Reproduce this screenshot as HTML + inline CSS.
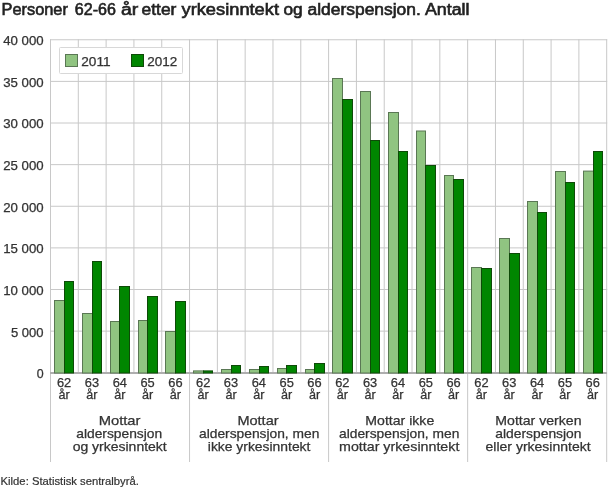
<!DOCTYPE html>
<html lang="no"><head><meta charset="utf-8"><title>Personer 62-66 år etter yrkesinntekt og alderspensjon</title>
<style>html,body{margin:0;padding:0;background:#fff}svg{display:block}</style></head>
<body>
<svg width="610" height="488" viewBox="0 0 610 488" font-family='"Liberation Sans", Arial, sans-serif'>
<rect width="610" height="488" fill="#fff"/>
<g stroke="#c8c8c8" stroke-width="1">
<line x1="50.50" y1="39.25" x2="50.50" y2="462"/>
<line x1="78.31" y1="39.25" x2="78.31" y2="373"/>
<line x1="106.12" y1="39.25" x2="106.12" y2="373"/>
<line x1="133.93" y1="39.25" x2="133.93" y2="373"/>
<line x1="161.74" y1="39.25" x2="161.74" y2="373"/>
<line x1="189.55" y1="39.25" x2="189.55" y2="462"/>
<line x1="217.36" y1="39.25" x2="217.36" y2="373"/>
<line x1="245.17" y1="39.25" x2="245.17" y2="373"/>
<line x1="272.98" y1="39.25" x2="272.98" y2="373"/>
<line x1="300.79" y1="39.25" x2="300.79" y2="373"/>
<line x1="328.60" y1="39.25" x2="328.60" y2="462"/>
<line x1="356.41" y1="39.25" x2="356.41" y2="373"/>
<line x1="384.22" y1="39.25" x2="384.22" y2="373"/>
<line x1="412.03" y1="39.25" x2="412.03" y2="373"/>
<line x1="439.84" y1="39.25" x2="439.84" y2="373"/>
<line x1="467.65" y1="39.25" x2="467.65" y2="462"/>
<line x1="495.46" y1="39.25" x2="495.46" y2="373"/>
<line x1="523.27" y1="39.25" x2="523.27" y2="373"/>
<line x1="551.08" y1="39.25" x2="551.08" y2="373"/>
<line x1="578.89" y1="39.25" x2="578.89" y2="373"/>
<line x1="606.70" y1="39.25" x2="606.70" y2="462"/>
<line x1="50" y1="39.750" x2="607.2" y2="39.750"/>
<line x1="50" y1="81.375" x2="607.2" y2="81.375"/>
<line x1="50" y1="123.000" x2="607.2" y2="123.000"/>
<line x1="50" y1="164.625" x2="607.2" y2="164.625"/>
<line x1="50" y1="206.250" x2="607.2" y2="206.250"/>
<line x1="50" y1="247.875" x2="607.2" y2="247.875"/>
<line x1="50" y1="289.500" x2="607.2" y2="289.500"/>
<line x1="50" y1="331.125" x2="607.2" y2="331.125"/>
</g>
<rect x="50" y="372" width="557" height="2" fill="#aeaeae" shape-rendering="crispEdges"/>
<g stroke-width="1">
<rect x="54.5" y="300.5" width="10" height="72.5" fill="#90c481" stroke="#5a7754"/>
<rect x="64.5" y="281.5" width="9" height="91.5" fill="#008600" stroke="#0e4a08"/>
<rect x="82.5" y="313.5" width="10" height="59.5" fill="#90c481" stroke="#5a7754"/>
<rect x="92.5" y="261.5" width="9" height="111.5" fill="#008600" stroke="#0e4a08"/>
<rect x="110.5" y="321.5" width="9" height="51.5" fill="#90c481" stroke="#5a7754"/>
<rect x="119.5" y="286.5" width="10" height="86.5" fill="#008600" stroke="#0e4a08"/>
<rect x="138.5" y="320.5" width="9" height="52.5" fill="#90c481" stroke="#5a7754"/>
<rect x="147.5" y="296.5" width="10" height="76.5" fill="#008600" stroke="#0e4a08"/>
<rect x="165.5" y="331.5" width="10" height="41.5" fill="#90c481" stroke="#5a7754"/>
<rect x="175.5" y="301.5" width="10" height="71.5" fill="#008600" stroke="#0e4a08"/>
<rect x="193.5" y="370.9" width="10" height="2.1000000000000227" fill="#90c481" stroke="#5a7754"/>
<rect x="203.5" y="370.9" width="9" height="2.1000000000000227" fill="#008600" stroke="#0e4a08"/>
<rect x="221.5" y="369.5" width="10" height="3.5" fill="#90c481" stroke="#5a7754"/>
<rect x="231.5" y="365.5" width="9" height="7.5" fill="#008600" stroke="#0e4a08"/>
<rect x="249.5" y="369.5" width="10" height="3.5" fill="#90c481" stroke="#5a7754"/>
<rect x="259.5" y="366.5" width="9" height="6.5" fill="#008600" stroke="#0e4a08"/>
<rect x="277.5" y="368.5" width="9" height="4.5" fill="#90c481" stroke="#5a7754"/>
<rect x="286.5" y="365.5" width="10" height="7.5" fill="#008600" stroke="#0e4a08"/>
<rect x="305.5" y="369.5" width="9" height="3.5" fill="#90c481" stroke="#5a7754"/>
<rect x="314.5" y="363.5" width="10" height="9.5" fill="#008600" stroke="#0e4a08"/>
<rect x="332.5" y="78.5" width="10" height="294.5" fill="#90c481" stroke="#5a7754"/>
<rect x="342.5" y="99.5" width="10" height="273.5" fill="#008600" stroke="#0e4a08"/>
<rect x="360.5" y="91.5" width="10" height="281.5" fill="#90c481" stroke="#5a7754"/>
<rect x="370.5" y="140.5" width="9" height="232.5" fill="#008600" stroke="#0e4a08"/>
<rect x="388.5" y="112.5" width="10" height="260.5" fill="#90c481" stroke="#5a7754"/>
<rect x="398.5" y="151.5" width="9" height="221.5" fill="#008600" stroke="#0e4a08"/>
<rect x="416.5" y="131.0" width="9" height="242.0" fill="#90c481" stroke="#5a7754"/>
<rect x="425.5" y="165.5" width="10" height="207.5" fill="#008600" stroke="#0e4a08"/>
<rect x="444.5" y="175.5" width="9" height="197.5" fill="#90c481" stroke="#5a7754"/>
<rect x="453.5" y="179.5" width="10" height="193.5" fill="#008600" stroke="#0e4a08"/>
<rect x="471.5" y="267.5" width="10" height="105.5" fill="#90c481" stroke="#5a7754"/>
<rect x="481.5" y="268.5" width="10" height="104.5" fill="#008600" stroke="#0e4a08"/>
<rect x="499.5" y="238.5" width="10" height="134.5" fill="#90c481" stroke="#5a7754"/>
<rect x="509.5" y="253.5" width="10" height="119.5" fill="#008600" stroke="#0e4a08"/>
<rect x="527.5" y="201.5" width="10" height="171.5" fill="#90c481" stroke="#5a7754"/>
<rect x="537.5" y="212.5" width="9" height="160.5" fill="#008600" stroke="#0e4a08"/>
<rect x="555.5" y="171.5" width="10" height="201.5" fill="#90c481" stroke="#5a7754"/>
<rect x="565.5" y="182.5" width="9" height="190.5" fill="#008600" stroke="#0e4a08"/>
<rect x="583.5" y="171.1" width="10" height="201.9" fill="#90c481" stroke="#5a7754"/>
<rect x="593.5" y="151.5" width="9" height="221.5" fill="#008600" stroke="#0e4a08"/>
</g>
<rect x="59.5" y="47.5" width="123" height="26" rx="1" fill="#fff" stroke="#d8d8d8"/>
<rect x="65.5" y="54.5" width="12" height="12" fill="#90c481" stroke="#5a7754" shape-rendering="crispEdges"/>
<rect x="131.5" y="54.5" width="12" height="12" fill="#008600" stroke="#0e4a08" shape-rendering="crispEdges"/>
<g font-size="12" fill="#333" stroke="#333" stroke-width="0.25">
<text x="81.3" y="66" textLength="29.3" lengthAdjust="spacingAndGlyphs">2011</text>
<text x="147.3" y="66" textLength="30" lengthAdjust="spacingAndGlyphs">2012</text>
<text x="3.2" y="44.5" textLength="40.4" lengthAdjust="spacingAndGlyphs">40 000</text>
<text x="3.2" y="86.5" textLength="40.4" lengthAdjust="spacingAndGlyphs">35 000</text>
<text x="3.2" y="127.5" textLength="40.4" lengthAdjust="spacingAndGlyphs">30 000</text>
<text x="3.2" y="169.5" textLength="40.4" lengthAdjust="spacingAndGlyphs">25 000</text>
<text x="3.2" y="211.5" textLength="40.4" lengthAdjust="spacingAndGlyphs">20 000</text>
<text x="3.2" y="252.5" textLength="40.4" lengthAdjust="spacingAndGlyphs">15 000</text>
<text x="3.2" y="294.5" textLength="40.4" lengthAdjust="spacingAndGlyphs">10 000</text>
<text x="11.0" y="336.5" textLength="32.6" lengthAdjust="spacingAndGlyphs">5 000</text>
<text x="36.7" y="377.5" textLength="6.9" lengthAdjust="spacingAndGlyphs">0</text>
<text x="64.1" y="386.7" text-anchor="middle" textLength="14.3" lengthAdjust="spacingAndGlyphs">62</text>
<text x="64.1" y="399.4" text-anchor="middle" textLength="11.2" lengthAdjust="spacingAndGlyphs">år</text>
<text x="91.9" y="386.7" text-anchor="middle" textLength="14.3" lengthAdjust="spacingAndGlyphs">63</text>
<text x="91.9" y="399.4" text-anchor="middle" textLength="11.2" lengthAdjust="spacingAndGlyphs">år</text>
<text x="119.8" y="386.7" text-anchor="middle" textLength="14.3" lengthAdjust="spacingAndGlyphs">64</text>
<text x="119.8" y="399.4" text-anchor="middle" textLength="11.2" lengthAdjust="spacingAndGlyphs">år</text>
<text x="147.6" y="386.7" text-anchor="middle" textLength="14.3" lengthAdjust="spacingAndGlyphs">65</text>
<text x="147.6" y="399.4" text-anchor="middle" textLength="11.2" lengthAdjust="spacingAndGlyphs">år</text>
<text x="175.4" y="386.7" text-anchor="middle" textLength="14.3" lengthAdjust="spacingAndGlyphs">66</text>
<text x="175.4" y="399.4" text-anchor="middle" textLength="11.2" lengthAdjust="spacingAndGlyphs">år</text>
<text x="203.2" y="386.7" text-anchor="middle" textLength="14.3" lengthAdjust="spacingAndGlyphs">62</text>
<text x="203.2" y="399.4" text-anchor="middle" textLength="11.2" lengthAdjust="spacingAndGlyphs">år</text>
<text x="231.0" y="386.7" text-anchor="middle" textLength="14.3" lengthAdjust="spacingAndGlyphs">63</text>
<text x="231.0" y="399.4" text-anchor="middle" textLength="11.2" lengthAdjust="spacingAndGlyphs">år</text>
<text x="258.8" y="386.7" text-anchor="middle" textLength="14.3" lengthAdjust="spacingAndGlyphs">64</text>
<text x="258.8" y="399.4" text-anchor="middle" textLength="11.2" lengthAdjust="spacingAndGlyphs">år</text>
<text x="286.7" y="386.7" text-anchor="middle" textLength="14.3" lengthAdjust="spacingAndGlyphs">65</text>
<text x="286.7" y="399.4" text-anchor="middle" textLength="11.2" lengthAdjust="spacingAndGlyphs">år</text>
<text x="314.5" y="386.7" text-anchor="middle" textLength="14.3" lengthAdjust="spacingAndGlyphs">66</text>
<text x="314.5" y="399.4" text-anchor="middle" textLength="11.2" lengthAdjust="spacingAndGlyphs">år</text>
<text x="342.3" y="386.7" text-anchor="middle" textLength="14.3" lengthAdjust="spacingAndGlyphs">62</text>
<text x="342.3" y="399.4" text-anchor="middle" textLength="11.2" lengthAdjust="spacingAndGlyphs">år</text>
<text x="370.1" y="386.7" text-anchor="middle" textLength="14.3" lengthAdjust="spacingAndGlyphs">63</text>
<text x="370.1" y="399.4" text-anchor="middle" textLength="11.2" lengthAdjust="spacingAndGlyphs">år</text>
<text x="397.9" y="386.7" text-anchor="middle" textLength="14.3" lengthAdjust="spacingAndGlyphs">64</text>
<text x="397.9" y="399.4" text-anchor="middle" textLength="11.2" lengthAdjust="spacingAndGlyphs">år</text>
<text x="425.8" y="386.7" text-anchor="middle" textLength="14.3" lengthAdjust="spacingAndGlyphs">65</text>
<text x="425.8" y="399.4" text-anchor="middle" textLength="11.2" lengthAdjust="spacingAndGlyphs">år</text>
<text x="453.6" y="386.7" text-anchor="middle" textLength="14.3" lengthAdjust="spacingAndGlyphs">66</text>
<text x="453.6" y="399.4" text-anchor="middle" textLength="11.2" lengthAdjust="spacingAndGlyphs">år</text>
<text x="481.4" y="386.7" text-anchor="middle" textLength="14.3" lengthAdjust="spacingAndGlyphs">62</text>
<text x="481.4" y="399.4" text-anchor="middle" textLength="11.2" lengthAdjust="spacingAndGlyphs">år</text>
<text x="509.2" y="386.7" text-anchor="middle" textLength="14.3" lengthAdjust="spacingAndGlyphs">63</text>
<text x="509.2" y="399.4" text-anchor="middle" textLength="11.2" lengthAdjust="spacingAndGlyphs">år</text>
<text x="537.1" y="386.7" text-anchor="middle" textLength="14.3" lengthAdjust="spacingAndGlyphs">64</text>
<text x="537.1" y="399.4" text-anchor="middle" textLength="11.2" lengthAdjust="spacingAndGlyphs">år</text>
<text x="564.9" y="386.7" text-anchor="middle" textLength="14.3" lengthAdjust="spacingAndGlyphs">65</text>
<text x="564.9" y="399.4" text-anchor="middle" textLength="11.2" lengthAdjust="spacingAndGlyphs">år</text>
<text x="592.7" y="386.7" text-anchor="middle" textLength="14.3" lengthAdjust="spacingAndGlyphs">66</text>
<text x="592.7" y="399.4" text-anchor="middle" textLength="11.2" lengthAdjust="spacingAndGlyphs">år</text>
</g>
<g font-size="13" fill="#333" stroke="#333" stroke-width="0.25" text-anchor="middle">
<text x="119.6" y="425" textLength="41.8" lengthAdjust="spacingAndGlyphs">Mottar</text>
<text x="119.2" y="438" textLength="85.9" lengthAdjust="spacingAndGlyphs">alderspensjon</text>
<text x="119.7" y="451" textLength="94.1" lengthAdjust="spacingAndGlyphs">og yrkesinntekt</text>
<text x="258.0" y="425" textLength="41.2" lengthAdjust="spacingAndGlyphs">Mottar</text>
<text x="259.2" y="438" textLength="120.3" lengthAdjust="spacingAndGlyphs">alderspensjon, men</text>
<text x="259.1" y="451" textLength="102.6" lengthAdjust="spacingAndGlyphs">ikke yrkesinntekt</text>
<text x="399.8" y="425" textLength="68.9" lengthAdjust="spacingAndGlyphs">Mottar ikke</text>
<text x="399.2" y="438" textLength="120.3" lengthAdjust="spacingAndGlyphs">alderspensjon, men</text>
<text x="399.2" y="451" textLength="120.3" lengthAdjust="spacingAndGlyphs">mottar yrkesinntekt</text>
<text x="538.4" y="425" textLength="86.2" lengthAdjust="spacingAndGlyphs">Mottar verken</text>
<text x="538.4" y="438" textLength="86.2" lengthAdjust="spacingAndGlyphs">alderspensjon</text>
<text x="538.1" y="451" textLength="105.1" lengthAdjust="spacingAndGlyphs">eller yrkesinntekt</text>
</g>
<text y="14.8" font-size="16" fill="#222" stroke="#222" stroke-width="0.6"><tspan x="1.6" textLength="66.3" lengthAdjust="spacingAndGlyphs">Personer</tspan> <tspan x="74.8" textLength="41.1" lengthAdjust="spacingAndGlyphs">62-66</tspan> <tspan x="120.9" textLength="17.3" lengthAdjust="spacingAndGlyphs">år</tspan> <tspan x="141.6" textLength="34.8" lengthAdjust="spacingAndGlyphs">etter</tspan> <tspan x="181.5" textLength="97.5" lengthAdjust="spacingAndGlyphs">yrkesinntekt</tspan> <tspan x="283.5" textLength="19.2" lengthAdjust="spacingAndGlyphs">og</tspan> <tspan x="307.5" textLength="113.3" lengthAdjust="spacingAndGlyphs">alderspensjon.</tspan> <tspan x="424.9" textLength="44.6" lengthAdjust="spacingAndGlyphs">Antall</tspan></text>
<text x="0.6" y="484.5" font-size="11" fill="#333" stroke="#333" stroke-width="0.2" textLength="138.3" lengthAdjust="spacingAndGlyphs">Kilde: Statistisk sentralbyrå.</text>
</svg>
</body></html>
